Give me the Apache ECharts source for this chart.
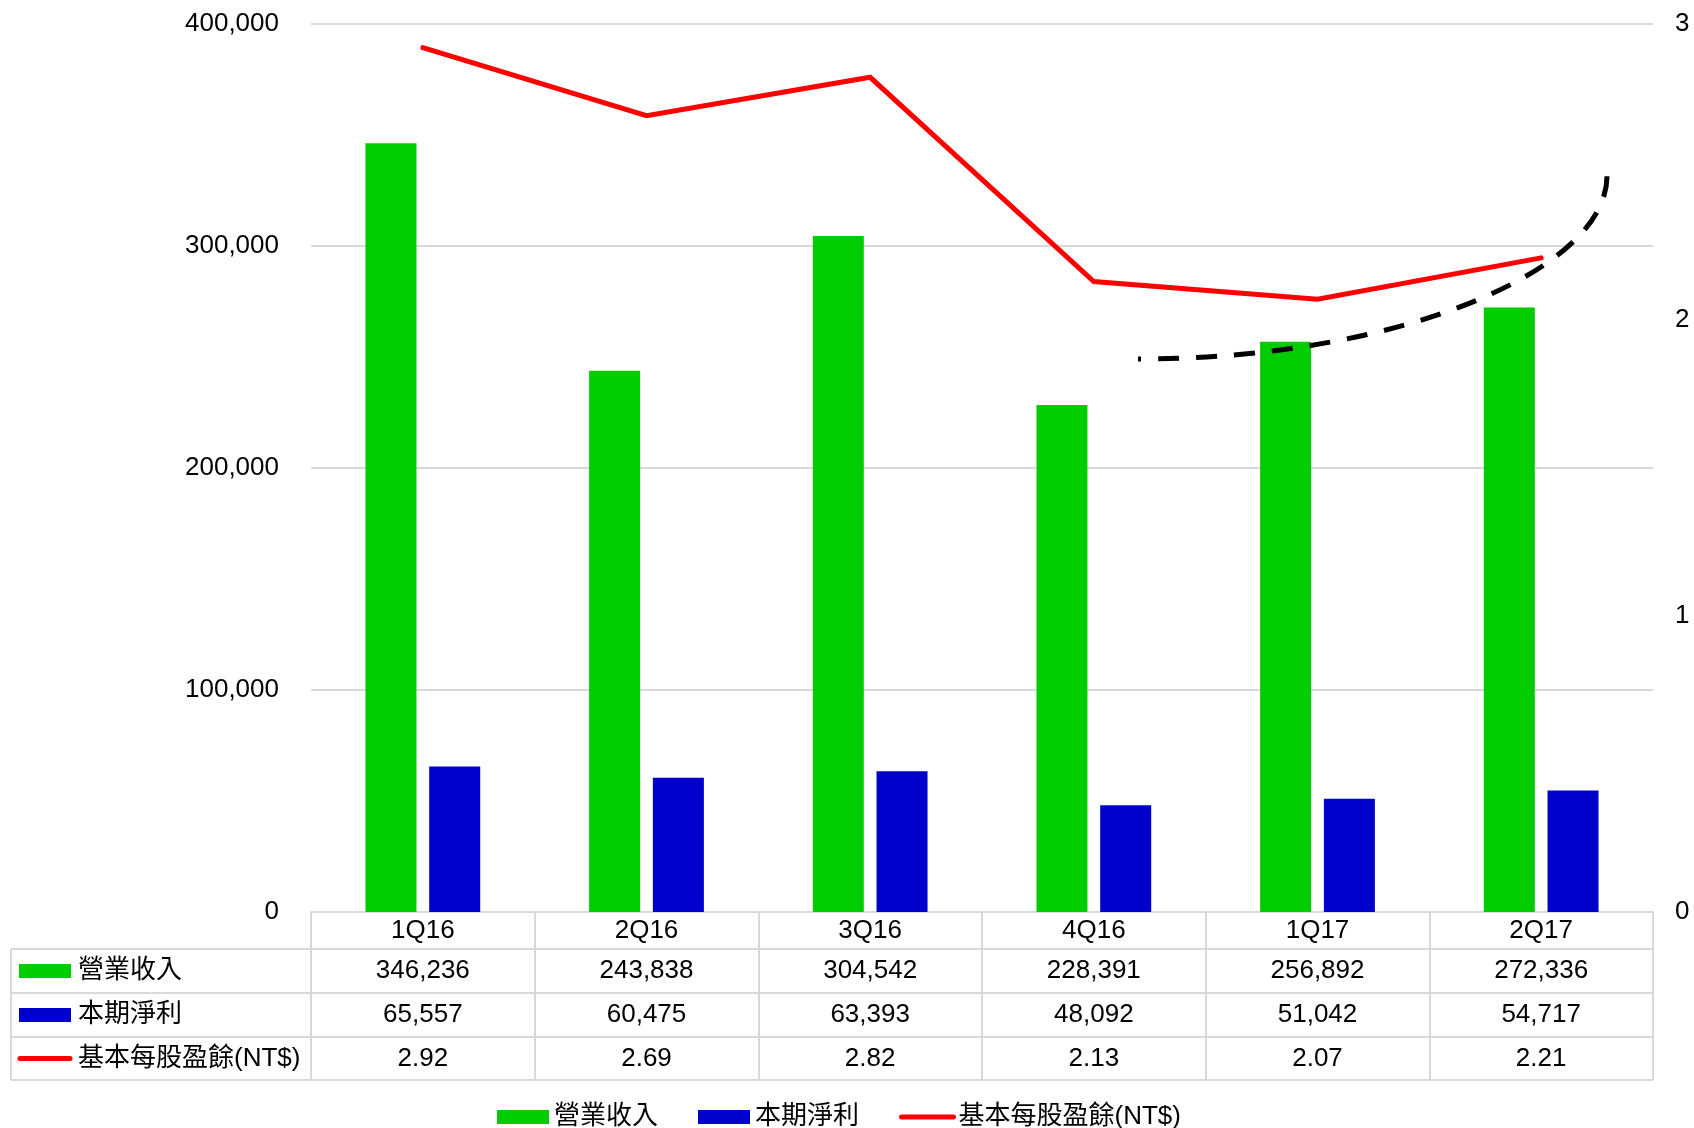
<!DOCTYPE html>
<html>
<head>
<meta charset="utf-8">
<title>營業收入 / 本期淨利 / 基本每股盈餘</title>
<script src="https://cdn.jsdelivr.net/npm/echarts@6/dist/echarts.min.js"></script>
<style>
  html, body { margin: 0; padding: 0; background: #ffffff; }
  #chart { width: 1694px; height: 1128px; }
</style>
</head>
<body>
<div id="chart"></div>
<script>
// Quarterly figures
const quarters = ['1Q16', '2Q16', '3Q16', '4Q16', '1Q17', '2Q17'];
const revenue = [346236, 243838, 304542, 228391, 256892, 272336];
const netIncome = [65557, 60475, 63393, 48092, 51042, 54717];
const eps = [2.92, 2.69, 2.82, 2.13, 2.07, 2.21];
const seriesNames = ['營業收入', '本期淨利', '基本每股盈餘(NT$)'];

// Axis scales
const leftAxisMax = 400000;
const leftAxisStep = 100000;
const rightAxisMax = 3;
const rightAxisStep = 1;

const GREEN = '#00cc00';
const BLUE = '#0000cc';
const RED = '#ff0000';
const RULE = '#d9d9d9';
const FONT = '"Liberation Sans", Arial, "Noto Sans CJK TC", sans-serif';
const CJK_FONT = '"Liberation Sans", "Noto Sans CJK TC", sans-serif';

const fmtInt = v => v.toLocaleString('en-US');
const fmtEps = v => v.toFixed(2);

// Plot area and data table geometry (pixels)
const G = { left: 311, right: 41, top: 24, bottom: 216 };
const chartW = 1694, chartH = 1128;
const axisY = chartH - G.bottom;            // baseline of the plot
const tableLeft = 11;
const tableRight = chartW - G.right;
const rowLines = [949, 993, 1037, 1080];     // bottom edges of header and data rows
const rowCenters = [
  (rowLines[0] + rowLines[1]) / 2,
  (rowLines[1] + rowLines[2]) / 2,
  (rowLines[2] + rowLines[3]) / 2
];

// One extra category axis per data row prints that row's values in each column
const rowValues = [revenue.map(fmtInt), netIncome.map(fmtInt), eps.map(fmtEps)];
const rowAxes = rowValues.map((vals, i) => ({
  type: 'category',
  gridIndex: 0,
  position: 'bottom',
  offset: rowCenters[i] - axisY,
  data: vals,
  axisLine: { show: false },
  axisTick: { show: false },
  axisLabel: {
    margin: 0,
    verticalAlign: 'middle',
    color: '#000',
    fontSize: 26,
    fontFamily: FONT,
    interval: 0
  },
  splitLine: { show: false }
}));

// Table rules and the row keys in the left column
const tableGraphics = [];
rowLines.forEach(y => {
  tableGraphics.push({
    type: 'line',
    shape: { x1: tableLeft, y1: y, x2: tableRight, y2: y },
    style: { stroke: RULE, lineWidth: 2 },
    z: 1
  });
});
tableGraphics.push({
  type: 'line',
  shape: { x1: tableLeft, y1: rowLines[0], x2: tableLeft, y2: rowLines[3] },
  style: { stroke: RULE, lineWidth: 2 },
  z: 1
});
tableGraphics.push({
  type: 'rect',
  shape: { x: 19, y: rowCenters[0] - 7, width: 52, height: 14 },
  style: { fill: GREEN }
});
tableGraphics.push({
  type: 'rect',
  shape: { x: 19, y: rowCenters[1] - 7, width: 52, height: 14 },
  style: { fill: BLUE }
});
tableGraphics.push({
  type: 'line',
  shape: { x1: 20, y1: rowCenters[2], x2: 70, y2: rowCenters[2] },
  style: { stroke: RED, lineWidth: 5, lineCap: 'round' }
});
seriesNames.forEach((name, i) => {
  tableGraphics.push({
    type: 'text',
    x: 78,
    y: rowCenters[i],
    style: {
      text: name,
      fill: '#000',
      font: '26px ' + CJK_FONT,
      verticalAlign: 'middle'
    }
  });
});

// Dashed trend annotation sweeping upward over the last quarters
tableGraphics.push({
  type: 'bezierCurve',
  shape: { x1: 1138, y1: 359, cpx1: 1400, cpy1: 359, cpx2: 1607, cpy2: 270, x2: 1607, y2: 176 },
  style: { stroke: '#000', fill: null, lineWidth: 5, lineDash: [21, 17], lineDashOffset: 18 },
  z: 10
});

const chart = echarts.init(document.getElementById('chart'), null, { renderer: 'canvas' });

chart.setOption({
  animation: false,
  backgroundColor: '#ffffff',
  grid: { left: G.left, right: G.right, top: G.top, bottom: G.bottom, containLabel: false },
  legend: {
    data: [
      { name: seriesNames[0], icon: 'rect' },
      { name: seriesNames[1], icon: 'rect' },
      { name: seriesNames[2], itemStyle: { opacity: 0 }, lineStyle: { color: RED, width: 5, cap: 'round' } }
    ],
    left: 497,
    top: 1104,
    padding: 0,
    itemWidth: 52,
    itemHeight: 14,
    itemGap: 40,
    textStyle: { fontSize: 26, color: '#000', fontFamily: CJK_FONT },
    selectedMode: false
  },
  xAxis: [
    {
      type: 'category',
      data: quarters,
      boundaryGap: true,
      axisLine: { show: true, lineStyle: { color: RULE, width: 2 } },
      axisTick: {
        show: true,
        inside: false,
        length: rowLines[3] - axisY,
        alignWithLabel: false,
        lineStyle: { color: RULE, width: 2 }
      },
      axisLabel: {
        margin: (rowLines[0] - axisY) / 2,
        verticalAlign: 'middle',
        color: '#000',
        fontSize: 26,
        fontFamily: FONT,
        interval: 0
      }
    }
  ].concat(rowAxes),
  yAxis: [
    {
      type: 'value',
      min: 0,
      max: leftAxisMax,
      interval: leftAxisStep,
      axisLine: { show: false },
      axisTick: { show: false },
      axisLabel: {
        margin: 32,
        color: '#000',
        fontSize: 26,
        fontFamily: FONT,
        formatter: v => fmtInt(v)
      },
      splitLine: { show: true, lineStyle: { color: RULE, width: 2 } }
    },
    {
      type: 'value',
      min: 0,
      max: rightAxisMax,
      interval: rightAxisStep,
      position: 'right',
      axisLine: { show: false },
      axisTick: { show: false },
      axisLabel: {
        margin: 22,
        color: '#000',
        fontSize: 26,
        fontFamily: FONT
      },
      splitLine: { show: false }
    }
  ],
  series: [
    {
      name: seriesNames[0],
      type: 'bar',
      xAxisIndex: 0,
      yAxisIndex: 0,
      data: revenue,
      barWidth: 51,
      barGap: '25%',
      itemStyle: { color: GREEN }
    },
    {
      name: seriesNames[1],
      type: 'bar',
      xAxisIndex: 0,
      yAxisIndex: 0,
      data: netIncome,
      barWidth: 51,
      barGap: '25%',
      itemStyle: { color: BLUE }
    },
    {
      name: seriesNames[2],
      type: 'line',
      xAxisIndex: 0,
      yAxisIndex: 1,
      data: eps,
      symbol: 'none',
      lineStyle: { color: RED, width: 5, cap: 'round', join: 'miter' },
      itemStyle: { color: RED },
      z: 5
    }
  ],
  graphic: tableGraphics
});
</script>
</body>
</html>
